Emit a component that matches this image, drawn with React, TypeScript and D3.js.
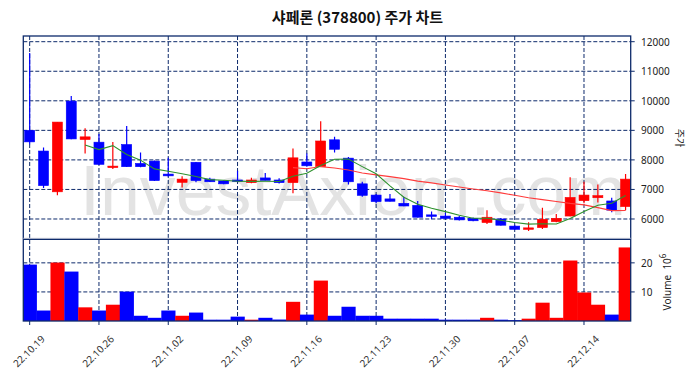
import React from "react";
import * as d3 from "d3";

const dates = [
  "22.10.19","22.10.20","22.10.21","22.10.24","22.10.25","22.10.26","22.10.27","22.10.28","22.10.31",
  "22.11.01","22.11.02","22.11.03","22.11.04","22.11.07","22.11.08","22.11.09","22.11.10","22.11.11",
  "22.11.14","22.11.15","22.11.16","22.11.17","22.11.18","22.11.21","22.11.22","22.11.23","22.11.24",
  "22.11.25","22.11.28","22.11.29","22.11.30","22.12.01","22.12.02","22.12.05","22.12.06","22.12.07",
  "22.12.08","22.12.09","22.12.12","22.12.13","22.12.14","22.12.15","22.12.16","22.12.19",
];
const opens = [
  9000,8300,6920,9990,8690,8600,7750,8520,7880,7960,7520,7240,7920,7350,7290,7320,7230,7390,7320,7230,
  7930,7770,8680,8060,7190,6810,6680,6530,6460,6140,6100,6060,6020,5880,6000,5760,5650,5710,5910,6100,
  6620,6720,6610,6420,
];
const highs = [
  11620,8420,9280,10160,9070,8880,8610,9150,8250,7980,8070,7450,7930,7400,7300,7630,7400,7560,7380,8390,
  8220,9310,8780,8100,7260,6850,6850,6750,6610,6250,6210,6100,6050,6300,6030,5790,5890,6380,6170,7410,
  7260,7170,6720,7520,
];
const lows = [
  8530,7050,6800,8700,8220,7830,7690,7760,7750,7290,7440,7070,7240,7250,7180,7280,7210,7300,7200,6870,
  7770,7760,8250,7170,6750,6530,6590,6430,6050,5990,6010,5950,5920,5830,5780,5640,5590,5660,5890,6090,
  6530,6560,6230,6300,
];
const closes = [
  8610,7130,9280,8710,8780,7850,7790,7770,7770,7300,7460,7350,7300,7260,7190,7300,7320,7310,7230,8070,
  7800,8640,8360,7260,6800,6590,6600,6440,6060,6130,6020,5970,5940,6060,5790,5650,5700,5990,6020,6730,
  6810,6790,6300,7350,
];
const volumes = [
  19.4,3.6,20.1,17.0,4.7,3.6,5.6,10.1,1.8,1.1,3.6,1.8,2.9,0.45,0.45,1.5,0.45,1.1,0.5,6.6,
  2.2,13.9,1.8,4.9,1.8,1.8,0.8,0.8,0.8,0.8,0.45,0.45,0.45,1.1,0.45,0.3,0.8,6.3,1.1,20.8,
  9.8,5.6,2.2,25.3,
];
const priceTicks = [6000, 7000, 8000, 9000, 10000, 11000, 12000];
const volumeTicks = [10, 20];
const tickIndices = [0, 5, 10, 15, 20, 25, 30, 35, 40];

const NAVY = "#0d2a6b";
const UP = "#ff0000";
const DOWN = "#0000ff";
const FONT = "'Noto Sans', 'Noto Sans CJK KR', sans-serif";

function movingAverage(values: number[], n: number) {
  const out: { i: number; v: number }[] = [];
  for (let i = n - 1; i < values.length; i++) {
    out.push({ i, v: d3.mean(values.slice(i - n + 1, i + 1)) as number });
  }
  return out;
}

export default function App() {
  const W = 695, H = 378;
  const left = 23.3, right = 630.7;
  const pTop = 36, pBottom = 239.3, vBottom = 321;

  const x = d3.scaleLinear().domain([-0.46, 43.37]).range([left, right]);
  const yP = d3.scaleLinear().domain([5313, 12193]).range([pBottom, pTop]);
  const yV = d3.scaleLinear().domain([0, 28.1]).range([vBottom, pBottom]);
  const step = x(1) - x(0);
  const bodyW = 10;

  const ma5 = movingAverage(closes, 5);
  const ma20 = movingAverage(closes, 20);
  const line = d3
    .line<{ i: number; v: number }>()
    .x((d) => x(d.i))
    .y((d) => yP(d.v));

  return (
    <svg
      width={W}
      height={H}
      style={{ position: "absolute", left: 0, top: 0, background: "#fff" }}
      fontFamily={FONT}
    >
      <text
        x={357.5}
        y={23}
        textAnchor="middle"
        fontSize={15}
        fontWeight="bold"
        fontFamily="'Noto Sans CJK KR', sans-serif"
        fill="#111"
      >
        샤페론 (378800) 주가 차트
      </text>

      <defs>
        <clipPath id="pclip">
          <rect x={left} y={pTop} width={right - left} height={pBottom - pTop} />
        </clipPath>
        <clipPath id="vclip">
          <rect x={left} y={pBottom} width={right - left} height={vBottom - pBottom} />
        </clipPath>
      </defs>

      {/* watermark */}
      <text
        x={80}
        y={215}
        fontSize={71}
        fontFamily="'Liberation Sans', Arial, sans-serif"
        fill="#e3e3e3"
        textLength={546}
        lengthAdjust="spacingAndGlyphs"
      >
        InvestAxiom.com
      </text>

      {/* grid */}
      <g stroke={NAVY} strokeWidth={1} strokeDasharray="4,2" fill="none">
        {priceTicks.map((t) => (
          <line key={"pg" + t} x1={left} x2={right} y1={yP(t)} y2={yP(t)} />
        ))}
        {volumeTicks.map((t) => (
          <line key={"vg" + t} x1={left} x2={right} y1={yV(t)} y2={yV(t)} />
        ))}
        {tickIndices.map((i) => (
          <line key={"xg" + i} x1={x(i)} x2={x(i)} y1={pTop} y2={vBottom} />
        ))}
      </g>

      {/* volume bars */}
      <g clipPath="url(#vclip)">
        {volumes.map((v, i) => (
          <rect
            key={"v" + i}
            x={x(i) - step / 2}
            y={yV(v)}
            width={step + 0.3}
            height={yV(0) - yV(v)}
            fill={closes[i] >= opens[i] ? UP : DOWN}
          />
        ))}
      </g>

      {/* candles */}
      <g clipPath="url(#pclip)">
        {opens.map((o, i) => {
          const c = closes[i];
          const col = c >= o ? UP : DOWN;
          const top = yP(Math.max(o, c));
          const bot = yP(Math.min(o, c));
          return (
            <g key={"c" + i}>
              <line x1={x(i)} x2={x(i)} y1={yP(highs[i])} y2={yP(lows[i])} stroke={col} strokeWidth={1.2} />
              <rect
                x={x(i) - bodyW / 2}
                y={top}
                width={bodyW}
                height={Math.max(bot - top, 1.5)}
                fill={col}
                stroke={col}
                strokeWidth={0.6}
              />
            </g>
          );
        })}
        <path d={line(ma20) || ""} fill="none" stroke="#ff3b3b" strokeWidth={1.1} />
        <path d={line(ma5) || ""} fill="none" stroke="#2e922e" strokeWidth={1.1} />
      </g>

      {/* frames */}
      <rect x={left} y={pTop} width={right - left} height={vBottom - pTop} fill="none" stroke={NAVY} strokeWidth={1.3} />
      <line x1={left} x2={right} y1={pBottom - 1} y2={pBottom - 1} stroke="#cfd3dc" strokeWidth={1} />
      <line x1={left} x2={right} y1={pBottom} y2={pBottom} stroke={NAVY} strokeWidth={1.3} />

      {/* right axis: price */}
      {priceTicks.map((t) => (
        <g key={"pt" + t}>
          <line x1={right} x2={right + 4} y1={yP(t)} y2={yP(t)} stroke={NAVY} strokeWidth={1} />
          <text x={641} y={yP(t)} dominantBaseline="central" fontSize={10} fill="#222">
            {t}
          </text>
        </g>
      ))}
      <text
        transform="translate(680,138) rotate(90)"
        textAnchor="middle"
        dominantBaseline="central"
        fontSize={10}
        fontFamily="'Noto Sans CJK KR', sans-serif"
        fill="#222"
      >
        주가
      </text>

      {/* right axis: volume */}
      {volumeTicks.map((t) => (
        <g key={"vt" + t}>
          <line x1={right} x2={right + 4} y1={yV(t)} y2={yV(t)} stroke={NAVY} strokeWidth={1} />
          <text x={641} y={yV(t)} dominantBaseline="central" fontSize={10} fill="#222">
            {t}
          </text>
        </g>
      ))}
      <text transform="translate(671,282) rotate(-90)" textAnchor="middle" fontSize={10} fill="#222">
        Volume{"\u00a0\u00a0"}10
        <tspan dy={-5} fontSize={8}>
          6
        </tspan>
      </text>

      {/* x axis ticks */}
      {tickIndices.map((i) => (
        <g key={"xt" + i}>
          <line x1={x(i)} x2={x(i)} y1={vBottom} y2={vBottom + 4} stroke={NAVY} strokeWidth={1} />
          <text
            transform={`translate(${x(i) - 1},351) rotate(-45)`}
            textAnchor="middle"
            dominantBaseline="central"
            fontSize={10}
            fill="#333"
          >
            {dates[i]}
          </text>
        </g>
      ))}
    </svg>
  );
}
